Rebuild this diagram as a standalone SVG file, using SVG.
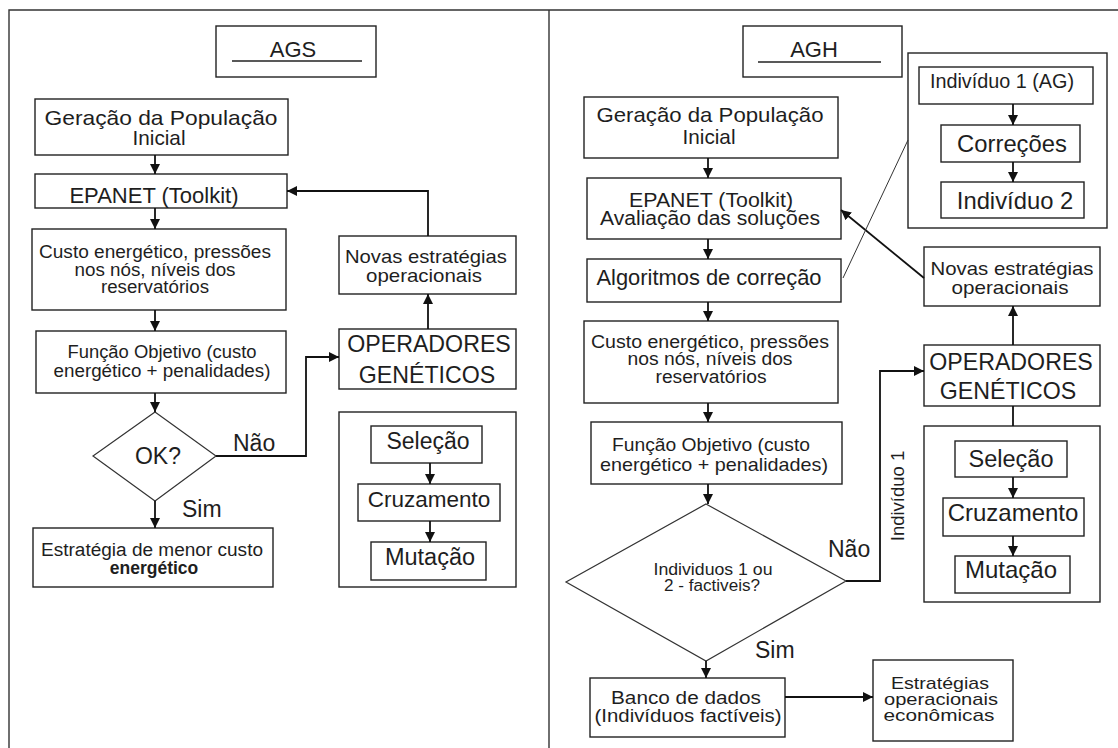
<svg xmlns="http://www.w3.org/2000/svg" width="1118" height="748" viewBox="0 0 1118 748">
  <style>
    .frame { fill: none; stroke: #333; stroke-width: 1.4; }
    .box { fill: #fff; stroke: #222; stroke-width: 1.4; }
    .grp { fill: none; stroke: #222; stroke-width: 1.4; }
    .dia { fill: #fff; stroke: #333; stroke-width: 1.2; }
    .t { font-family: "Liberation Sans", Arial, sans-serif; fill: #1e1e1e; text-anchor: middle; }
    .l { text-anchor: start; }
    .b { font-weight: bold; }
    .edge { fill: none; stroke: #111; stroke-width: 1.8; }
    .thin { fill: none; stroke: #333; stroke-width: 1; }
    .arr { marker-end: url(#head); }
  </style>
  <defs>
    <marker id="head" viewBox="0 0 10 10" refX="10" refY="5" markerWidth="10" markerHeight="10" markerUnits="userSpaceOnUse" orient="auto">
      <path d="M0,0 L10,5 L0,10 z" fill="#111"/>
    </marker>
  </defs>
  <rect width="1118" height="748" fill="#fff"/>

  <!-- outer frame and panel divider -->
  <g id="frame">
    <path class="frame" d="M9,748 V10 H1118"/>
    <path class="frame" d="M549,10 V748"/>
  </g>

  <!-- ===== AGS panel ===== -->
  <g id="ags-title">
    <rect class="box" x="216" y="26" width="160" height="51"/>
    <text class="t" x="293" y="57" font-size="22">AGS</text>
    <line x1="232" y1="61" x2="362" y2="61" stroke="#222" stroke-width="1.4"/>
  </g>
  <g id="ags-geracao">
    <rect class="box" x="35" y="99" width="253" height="56"/>
    <text class="t" x="161" y="125" font-size="21" textLength="233" lengthAdjust="spacingAndGlyphs">Geração da População</text>
    <text class="t" x="159" y="145" font-size="21" textLength="53" lengthAdjust="spacingAndGlyphs">Inicial</text>
  </g>
  <g id="ags-epanet">
    <rect class="box" x="35" y="174" width="252" height="34"/>
    <text class="t" x="154" y="203" font-size="22">EPANET (Toolkit)</text>
  </g>
  <g id="ags-custo">
    <rect class="box" x="32" y="229" width="254" height="81"/>
    <text class="t" x="155" y="258" font-size="17.5" textLength="232" lengthAdjust="spacingAndGlyphs">Custo energético, pressões</text>
    <text class="t" x="155" y="276" font-size="17.5" textLength="161" lengthAdjust="spacingAndGlyphs">nos nós, níveis dos</text>
    <text class="t" x="155" y="293" font-size="17.5" textLength="108" lengthAdjust="spacingAndGlyphs">reservatórios</text>
  </g>
  <g id="ags-funcao">
    <rect class="box" x="36" y="331" width="250" height="62"/>
    <text class="t" x="162" y="358" font-size="18" textLength="189" lengthAdjust="spacingAndGlyphs">Função Objetivo (custo</text>
    <text class="t" x="162" y="377" font-size="18" textLength="217" lengthAdjust="spacingAndGlyphs">energético + penalidades)</text>
  </g>
  <g id="ags-ok">
    <polygon class="dia" points="155,412 216,456 155,501 93,456"/>
    <text class="t" x="158" y="464" font-size="23">OK?</text>
  </g>
  <g id="ags-estrategia">
    <rect class="box" x="33" y="528" width="240" height="59"/>
    <text class="t" x="152" y="556" font-size="18" textLength="222" lengthAdjust="spacingAndGlyphs">Estratégia de menor custo</text>
    <text class="t b" x="154" y="574" font-size="17.5">energético</text>
  </g>
  <g id="ags-novas">
    <rect class="box" x="339" y="236" width="177" height="58"/>
    <text class="t" x="426" y="263" font-size="18.5" textLength="162" lengthAdjust="spacingAndGlyphs">Novas estratégias</text>
    <text class="t" x="424" y="282" font-size="18.5" textLength="116" lengthAdjust="spacingAndGlyphs">operacionais</text>
  </g>
  <g id="ags-operadores">
    <rect class="box" x="339" y="329" width="177" height="60"/>
    <text class="t" x="429" y="352" font-size="23.2">OPERADORES</text>
    <text class="t" x="427" y="383" font-size="23.2">GENÉTICOS</text>
  </g>
  <g id="ags-operadores-lista">
    <rect class="grp" x="339" y="412" width="177" height="175"/>
    <rect class="box" x="371" y="426" width="111" height="37"/>
    <text class="t" x="428" y="449" font-size="23">Seleção</text>
    <rect class="box" x="358" y="484" width="142" height="37"/>
    <text class="t" x="429" y="507" font-size="22.5">Cruzamento</text>
    <rect class="box" x="371" y="542" width="115" height="38"/>
    <text class="t" x="430" y="565" font-size="23.5">Mutação</text>
  </g>

  <!-- ===== AGH panel ===== -->
  <g id="agh-title">
    <rect class="box" x="743" y="26" width="159" height="51"/>
    <text class="t" x="814" y="57" font-size="22">AGH</text>
    <line x1="758" y1="62" x2="881" y2="62" stroke="#222" stroke-width="1.4"/>
  </g>
  <g id="agh-geracao">
    <rect class="box" x="584" y="97" width="254" height="61"/>
    <text class="t" x="710" y="122" font-size="21" textLength="227" lengthAdjust="spacingAndGlyphs">Geração da População</text>
    <text class="t" x="709" y="144" font-size="21" textLength="53" lengthAdjust="spacingAndGlyphs">Inicial</text>
  </g>
  <g id="agh-epanet">
    <rect class="box" x="587" y="178" width="254" height="61"/>
    <text class="t" x="711" y="207" font-size="20" textLength="164" lengthAdjust="spacingAndGlyphs">EPANET (Toolkit)</text>
    <text class="t" x="710" y="225" font-size="20" textLength="220" lengthAdjust="spacingAndGlyphs">Avaliação das soluções</text>
  </g>
  <g id="agh-algoritmos">
    <rect class="box" x="587" y="259" width="254" height="43"/>
    <text class="t" x="709" y="285" font-size="21.9">Algoritmos de correção</text>
  </g>
  <g id="agh-custo">
    <rect class="box" x="584" y="321" width="254" height="82"/>
    <text class="t" x="710" y="348" font-size="17.5" textLength="238" lengthAdjust="spacingAndGlyphs">Custo energético, pressões</text>
    <text class="t" x="710" y="365" font-size="17.5" textLength="165" lengthAdjust="spacingAndGlyphs">nos nós, níveis dos</text>
    <text class="t" x="711" y="383" font-size="17.5" textLength="111" lengthAdjust="spacingAndGlyphs">reservatórios</text>
  </g>
  <g id="agh-funcao">
    <rect class="box" x="591" y="422" width="251" height="62"/>
    <text class="t" x="711" y="451" font-size="18.5" textLength="198" lengthAdjust="spacingAndGlyphs">Função Objetivo (custo</text>
    <text class="t" x="714" y="471" font-size="18.5" textLength="228" lengthAdjust="spacingAndGlyphs">energético + penalidades)</text>
  </g>
  <g id="agh-factiveis">
    <polygon class="dia" points="706,504 846,581 706,661 566,582"/>
    <text class="t" x="713" y="575" font-size="16" textLength="119" lengthAdjust="spacingAndGlyphs">Individuos 1 ou</text>
    <text class="t" x="712" y="591" font-size="16" textLength="96" lengthAdjust="spacingAndGlyphs">2 - factiveis?</text>
  </g>
  <g id="agh-banco">
    <rect class="box" x="590" y="678" width="195" height="59"/>
    <text class="t" x="686" y="704" font-size="17.5" textLength="150" lengthAdjust="spacingAndGlyphs">Banco de dados</text>
    <text class="t" x="688" y="722" font-size="17.5" textLength="187" lengthAdjust="spacingAndGlyphs">(Indivíduos factíveis)</text>
  </g>
  <g id="agh-estrategias">
    <rect class="box" x="873" y="660" width="140" height="81"/>
    <text class="t" x="940" y="689" font-size="17" textLength="98" lengthAdjust="spacingAndGlyphs">Estratégias</text>
    <text class="t" x="941" y="705" font-size="17" textLength="114" lengthAdjust="spacingAndGlyphs">operacionais</text>
    <text class="t" x="939" y="721" font-size="17" textLength="111" lengthAdjust="spacingAndGlyphs">econômicas</text>
  </g>
  <g id="agh-correcao">
    <rect class="grp" x="908" y="53" width="199" height="175"/>
    <rect class="box" x="919" y="67" width="174" height="37"/>
    <text class="t" x="1002" y="88" font-size="19.8">Indivíduo 1 (AG)</text>
    <rect class="box" x="941" y="125" width="139" height="37"/>
    <text class="t" x="1012" y="152" font-size="23.8">Correções</text>
    <rect class="box" x="941" y="182" width="143" height="36"/>
    <text class="t" x="1015" y="209" font-size="23.8">Indivíduo 2</text>
  </g>
  <g id="agh-novas">
    <rect class="box" x="924" y="247" width="176" height="59"/>
    <text class="t" x="1012" y="275" font-size="18.5" textLength="163" lengthAdjust="spacingAndGlyphs">Novas estratégias</text>
    <text class="t" x="1010" y="294" font-size="18.5" textLength="117" lengthAdjust="spacingAndGlyphs">operacionais</text>
  </g>
  <g id="agh-operadores">
    <rect class="box" x="924" y="345" width="176" height="61"/>
    <text class="t" x="1011" y="370" font-size="23.2">OPERADORES</text>
    <text class="t" x="1008" y="399" font-size="23.2">GENÉTICOS</text>
  </g>
  <g id="agh-operadores-lista">
    <rect class="grp" x="924" y="426" width="176" height="176"/>
    <rect class="box" x="955" y="441" width="112" height="36"/>
    <text class="t" x="1011" y="467" font-size="23.5">Seleção</text>
    <rect class="box" x="943" y="498" width="141" height="38"/>
    <text class="t" x="1013" y="521" font-size="24">Cruzamento</text>
    <rect class="box" x="955" y="556" width="115" height="37"/>
    <text class="t" x="1011" y="578" font-size="24">Mutação</text>
  </g>

  <!-- connectors -->
  <g id="connectors">
    <!-- AGS main flow -->
    <path class="edge arr" d="M155,155 V174"/>
    <path class="edge arr" d="M155,208 V229"/>
    <path class="edge arr" d="M155,310 V331"/>
    <path class="edge arr" d="M155,393 V412"/>
    <path class="edge arr" d="M155,501 V528"/>
    <path class="edge arr" d="M216,456 H306 V357 H339"/>
    <path class="edge arr" d="M428,329 V294"/>
    <path class="edge arr" d="M428,236 V191 H287"/>
    <path class="edge arr" d="M430,463 V484"/>
    <path class="edge arr" d="M430,521 V542"/>

    <!-- AGH main flow -->
    <path class="edge arr" d="M708,158 V178"/>
    <path class="edge arr" d="M708,239 V259"/>
    <path class="edge arr" d="M708,302 V321"/>
    <path class="edge arr" d="M708,403 V422"/>
    <path class="edge arr" d="M708,484 V504"/>
    <path class="edge arr" d="M706,661 V678"/>
    <path class="edge arr" d="M785,697 H873"/>
    <path class="edge arr" d="M846,581 H880 V371 H924"/>
    <path class="edge arr" d="M1013,345 V306"/>
    <path class="edge arr" d="M924,278 L841,210"/>
    <path class="edge" d="M1013,406 V426"/>
    <path class="edge arr" d="M1013,104 V125"/>
    <path class="edge arr" d="M1013,162 V182"/>
    <path class="edge arr" d="M1013,477 V498"/>
    <path class="edge arr" d="M1013,536 V556"/>
    <path class="thin" d="M843,278 L908,140"/>
  </g>

  <!-- connector labels -->
  <g id="labels">
    <text class="t l" x="233" y="451" font-size="23">Não</text>
    <text class="t l" x="182" y="517" font-size="23">Sim</text>
    <text class="t l" x="828" y="557" font-size="23">Não</text>
    <text class="t l" x="755" y="658" font-size="23">Sim</text>
    <text class="t" font-size="18.5" transform="translate(904,496) rotate(-90)">Indivíduo 1</text>
  </g>
</svg>
